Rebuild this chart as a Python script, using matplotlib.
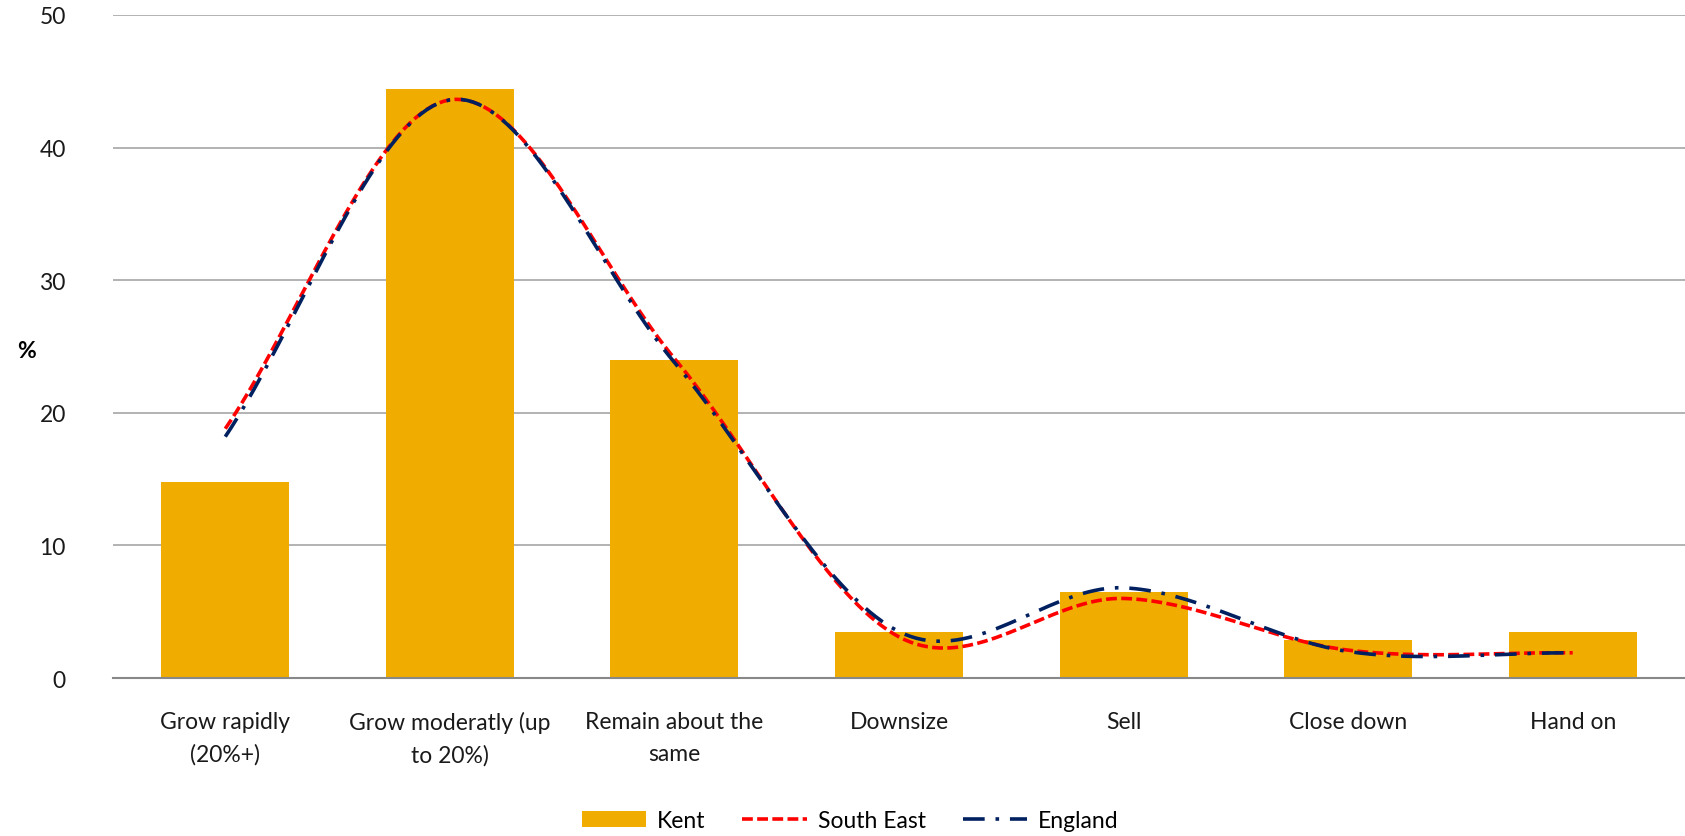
import numpy as np
import matplotlib
matplotlib.use('Agg')
import matplotlib.pyplot as plt

plt.rcParams['font.family'] = ['Lato', 'DejaVu Sans']

# Dados
categories = ['Grow rapidly\n(20%+)', 'Grow moderatly (up\nto 20%)', 'Remain about the\nsame',
              'Downsize', 'Sell', 'Close down', 'Hand on']
kent = [14.8, 44.4, 24.0, 3.5, 6.5, 2.9, 3.5]
south_east = [18.8, 43.6, 24.1, 3.1, 6.0, 2.1, 1.9]
england = [18.2, 43.6, 23.8, 3.5, 6.8, 2.0, 1.9]
y_ticks = [0, 10, 20, 30, 40, 50]


def smooth(xs, ys, n=40):
    """Curva suave estilo Excel (Bezier / Catmull-Rom) passando pelos pontos."""
    xs = np.asarray(xs, float)
    ys = np.asarray(ys, float)
    m = len(xs)
    tx = np.zeros(m)
    ty = np.zeros(m)
    for i in range(m):
        a = max(i - 1, 0)
        b = min(i + 1, m - 1)
        tx[i] = (xs[b] - xs[a]) / (b - a)
        ty[i] = (ys[b] - ys[a]) / (b - a)
    out_x, out_y = [], []
    t = np.linspace(0, 1, n)
    for i in range(m - 1):
        p0 = np.array([xs[i], ys[i]])
        p3 = np.array([xs[i + 1], ys[i + 1]])
        p1 = p0 + np.array([tx[i], ty[i]]) / 3
        p2 = p3 - np.array([tx[i + 1], ty[i + 1]]) / 3
        bx = ((1 - t) ** 3 * p0[0] + 3 * (1 - t) ** 2 * t * p1[0]
              + 3 * (1 - t) * t ** 2 * p2[0] + t ** 3 * p3[0])
        by = ((1 - t) ** 3 * p0[1] + 3 * (1 - t) ** 2 * t * p1[1]
              + 3 * (1 - t) * t ** 2 * p2[1] + t ** 3 * p3[1])
        out_x.extend(bx if i == 0 else bx[1:])
        out_y.extend(by if i == 0 else by[1:])
    return np.array(out_x), np.array(out_y)


fig = plt.figure(figsize=(16.85, 8.37), dpi=100)
ax = fig.add_axes([113 / 1685, 1 - 679 / 837, 1 - 113 / 1685, (679 - 16) / 837])

x = np.arange(len(categories))
bars = ax.bar(x, kent, width=0.57, color='#F0AD00', label='Kent', zorder=2)

sx, sy = smooth(x, south_east)
l_se, = ax.plot(sx, sy, color='#FF0000', lw=2.6, linestyle=(0, (3, 1.2)), label='South East', zorder=3)
ex, ey = smooth(x, england)
l_en, = ax.plot(ex, ey, color='#002060', lw=2.6, linestyle=(0, (6, 3, 1, 3)), label='England', zorder=4)

ax.set_xlim(-0.5, len(categories) - 0.5)
ax.set_ylim(0, 50)
ax.set_yticks(y_ticks)
ax.set_xticks(x)
ax.set_xticklabels(categories, fontsize=16.5, color='#1a1a1a', linespacing=1.6)
ax.tick_params(axis='y', labelsize=16.5, colors='#1a1a1a', length=0, pad=34)
ax.tick_params(axis='x', length=0, pad=24)
ax.grid(axis='y', color='#A6A6A6', lw=1.2, zorder=0)
for s in ['top', 'right', 'left']:
    ax.spines[s].set_visible(False)
ax.spines['bottom'].set_color('#888888')
ax.spines['bottom'].set_linewidth(1.5)

fig.text(26 / 1685, 1 - 352 / 837, '%', fontsize=16.5, fontweight='bold', ha='center', va='center')

ax.legend(handles=[bars, l_se, l_en], loc='center', bbox_to_anchor=(0.469, -0.215), ncol=3,
          frameon=False, fontsize=16.5, handlelength=2.8, columnspacing=1.6, handletextpad=0.5)

fig.savefig('out.png', dpi=100)
